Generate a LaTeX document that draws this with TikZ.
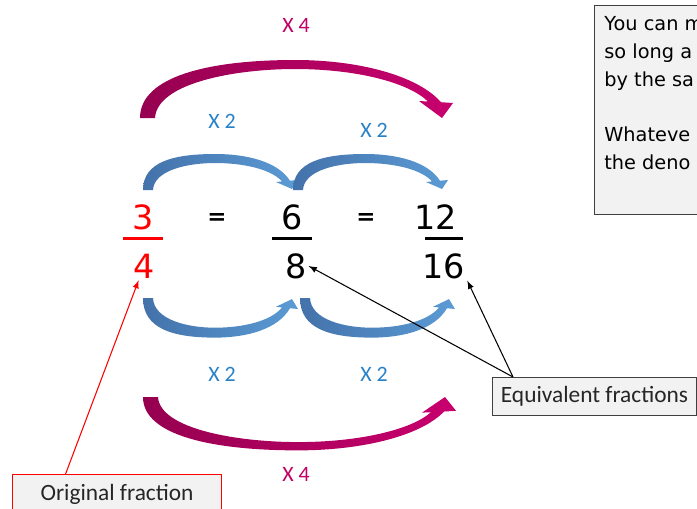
\documentclass[tikz,border=0pt]{standalone}
\usepackage{fontspec}
\setmainfont{Carlito}
\newfontfamily\comic{DejaVu Sans}
\usetikzlibrary{calc}

\definecolor{fracred}{RGB}{255,0,0}
\definecolor{labelblue}{RGB}{40,130,200}
\definecolor{labelpink}{RGB}{192,0,100}
\definecolor{bluedark}{RGB}{68,114,170}
\definecolor{bluelight}{RGB}{91,155,213}
\definecolor{pinkdark}{RGB}{150,0,80}
\definecolor{pinklight}{RGB}{200,0,110}
\definecolor{boxfill}{RGB}{242,242,242}
\definecolor{boxline}{RGB}{64,64,64}

% tapered bent arrows, local frame: outer base at origin, y up
\newcommand{\bluebend}[1]{%
  \shade[bluearrow, #1] (0,0) -- (10,0)
    .. controls (11,20) and (45,27) .. (72,27)
    .. controls (100,27) and (128,21) .. (139,8.6)
    -- (133,8) -- (149,1) -- (155,10) -- (147,9.3)
    .. controls (135,28) and (105,36) .. (72,36)
    .. controls (30,36) and (0,28) .. (0,0) -- cycle;}
\newcommand{\pinkbend}[1]{%
  \shade[pinkarrow, #1] (0,0) -- (15,0)
    .. controls (17,35) and (95,49) .. (155,49)
    .. controls (215,49) and (268,36) .. (288,16.5)
    -- (279,17) -- (302,0) -- (313,15) -- (301,15.8)
    .. controls (278,42) and (220,58) .. (155,58)
    .. controls (70,58) and (0,42) .. (0,0) -- cycle;}

\begin{document}
\begin{tikzpicture}[x=0.02cm, y=-0.02cm, >=latex,
    digit/.style={font=\comic\fontsize{19}{19}\selectfont, inner sep=1pt},
    equals/.style={font=\comic\bfseries\fontsize{13}{13}\selectfont, inner sep=0pt},
    times/.style={font=\fontsize{12.5}{12.5}\selectfont, inner sep=0pt},
    bluetimes/.style={times, text=labelblue},
    pinktimes/.style={times, text=labelpink},
    callout/.style={draw, fill=boxfill, line width=0.6pt, text=black!85,
      font=\fontsize{13.3}{13.3}\selectfont, anchor=north west},
    fracbar/.style={line width=1.7pt},
    bluearrow/.style={left color=bluedark, right color=bluelight},
    pinkarrow/.style={left color=pinkdark, right color=pinklight}]

  \useasboundingbox (0,0) rectangle (697,508);

  % note box, cut by the right edge
  \node[draw=boxline, fill=boxfill, line width=0.6pt, anchor=north west,
    minimum width=3cm, minimum height=4.18cm] (note) at (594,5) {};
  \node[anchor=north west, inner sep=0pt, align=left,
    font=\comic\fontsize{11}{15.8}\selectfont] (notetext)
    at ($(note.north west)+(10,11.5)$)
    {You can m\\so long a\\by the sa\\[15.8pt]Whateve\\the deno};

  % bent arrows
  \pinkbend{shift={(140,118)}, yscale=-1}
  \bluebend{shift={(143,190)}, yscale=-1}
  \bluebend{shift={(293,190)}, yscale=-1}
  \bluebend{shift={(143,298)}, yscale=1.1}
  \bluebend{shift={(300,298)}, yscale=1.1}
  \pinkbend{shift={(143,397)}, yscale=0.92}

  % fractions
  \node[digit, text=fracred] (three) at (143,217) {3};
  \node[digit, text=fracred] (four) at (144,266) {4};
  \node[equals] (eq1) at (217,219) {=};
  \node[digit] (six) at (292,217) {6};
  \node[digit] (eight) at (296,266) {8};
  \node[equals] (eq2) at (366,219) {=};
  \node[digit] (twelve) at (436,217) {12};
  \node[digit] (sixteen) at (444,266) {16};
  \draw[fracbar, fracred] (123,238.5) -- (163,238.5);
  \draw[fracbar] (272,238.5) -- (312,238.5);
  \draw[fracbar] (425,238.5) -- (463,238.5);

  % factors
  \node[pinktimes] (x4top) at (296,25) {X 4};
  \node[bluetimes] (x2a) at (222,121) {X 2};
  \node[bluetimes] (x2b) at (374,130) {X 2};
  \node[bluetimes] (x2c) at (222,374) {X 2};
  \node[bluetimes] (x2d) at (374,374) {X 2};
  \node[pinktimes] (x4bot) at (296,474) {X 4};

  % callouts
  \node[callout, draw=red, minimum width=4.18cm, minimum height=0.8cm]
    (orig) at (12,474) {Original fraction};
  \node[callout, draw=boxline, minimum width=4.08cm, minimum height=0.76cm]
    (equiv) at (492,377) {Equivalent fractions};

  \draw[->, red, line width=0.6pt]
    ($(orig.north west)!0.255!(orig.north east)$) -- (four);
  \draw[->, line width=0.6pt] ($(equiv.north west)+(21,0)$) -- (eight.east);
  \draw[->, line width=0.6pt] ($(equiv.north west)+(21,0)$) -- (sixteen.south east);
\end{tikzpicture}
\end{document}
